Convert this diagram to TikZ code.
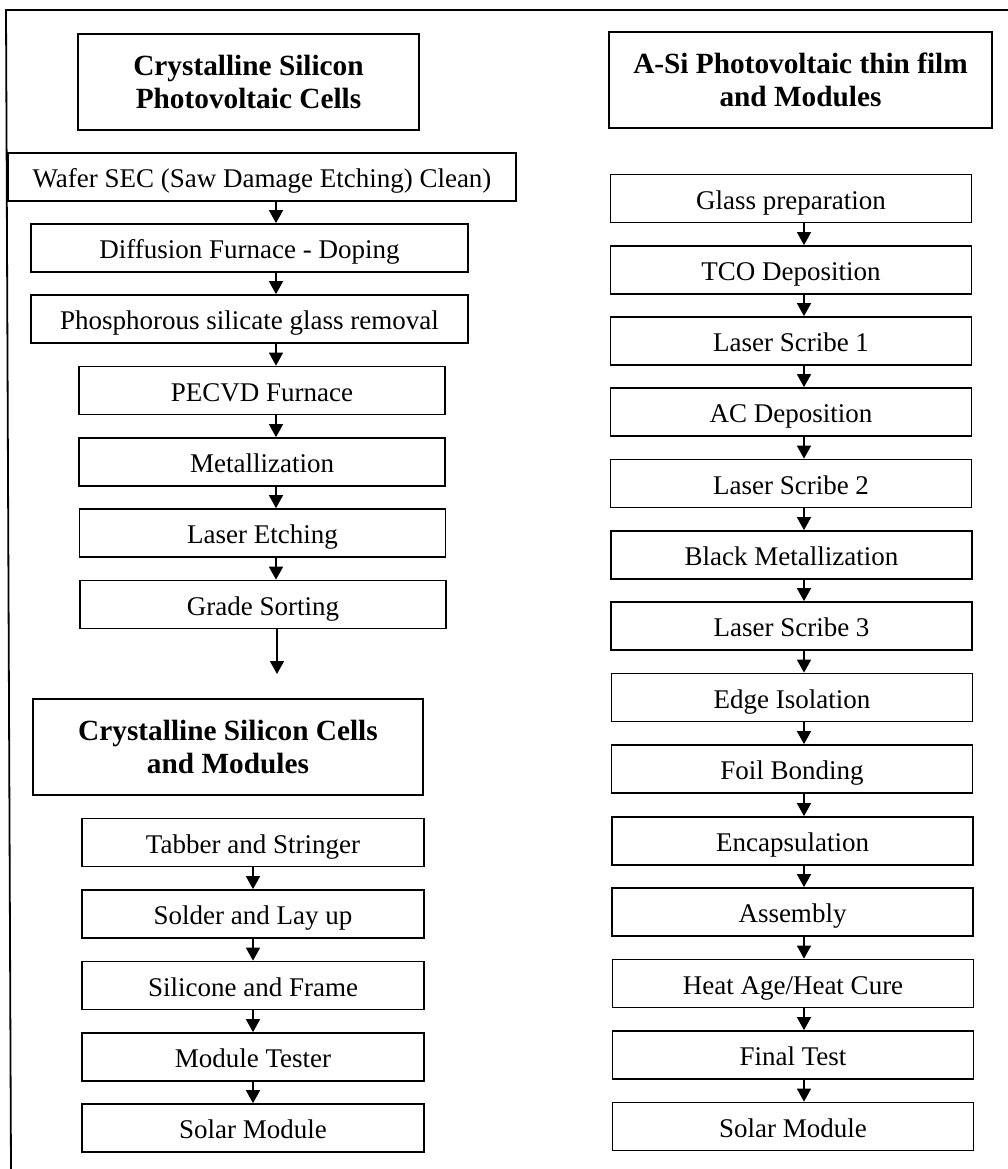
\documentclass[tikz,border=0pt]{standalone}
\usepackage{fontspec}
\setmainfont{Liberation Serif}
\usetikzlibrary{arrows.meta}
\begin{document}
\begin{tikzpicture}[x=1pt,y=-1pt,
  box/.style={draw, line width=1.7pt, minimum height=48pt, inner sep=0pt,
    font=\fontsize{27}{30}\selectfont, text height=21pt, text depth=0pt},
  ttl/.style={draw, line width=1.7pt, minimum height=96pt, inner sep=0pt,
    align=center, font=\bfseries\fontsize{29.3}{33}\selectfont},
  arr/.style={line width=1.5pt, -{Triangle[length=13pt,width=14pt]}}]
\useasboundingbox (0,0) rectangle (1008,1169);
% frame
\draw[line width=1.8pt] (11,1169) -- (6,10) -- (1008,10);
% ---------- left column ----------
\node[ttl, minimum width=341pt] (t1) at (248.5,82) {Crystalline Silicon\\Photovoltaic Cells};
\node[box, minimum width=508pt] (waf) at (262,177) {Wafer SEC (Saw Damage Etching) Clean)};
\node[box, minimum width=437pt] (dif) at (249.5,248) {Diffusion Furnace - Doping};
\node[box, minimum width=437pt] (pho) at (249.5,319) {Phosphorous silicate glass removal};
\node[box, minimum width=366pt] (pec) at (262,390.5) {PECVD Furnace};
\node[box, minimum width=366pt] (met) at (262,462) {Metallization};
\node[box, minimum width=366pt] (las) at (262.5,533) {Laser Etching};
\node[box, minimum width=366pt] (gra) at (263,604.5) {Grade Sorting};
\coordinate (ax) at (276,0);
\coordinate (gend) at (277,674);
\draw[arr] (waf.south -| ax) -- (dif.north -| ax);
\draw[arr] (dif.south -| ax) -- (pho.north -| ax);
\draw[arr] (pho.south -| ax) -- (pec.north -| ax);
\draw[arr] (pec.south -| ax) -- (met.north -| ax);
\draw[arr] (met.south -| ax) -- (las.north -| ax);
\draw[arr] (las.south -| ax) -- (gra.north -| ax);
\draw[arr] (gra.south -| gend) -- (gend);
\node[ttl, minimum width=390pt] (t2) at (228,747) {Crystalline Silicon Cells\\and Modules};
\node[box, minimum width=342pt] (tab) at (253,842.5) {Tabber and Stringer};
\node[box, minimum width=342pt] (sol) at (253,914) {Solder and Lay up};
\node[box, minimum width=342pt] (sil) at (253,985.5) {Silicone and Frame};
\node[box, minimum width=342pt] (mod) at (253,1057) {Module Tester};
\node[box, minimum width=342pt] (sm1) at (253,1128) {Solar Module};
\draw[arr] (tab) -- (sol);
\draw[arr] (sol) -- (sil);
\draw[arr] (sil) -- (mod);
\draw[arr] (mod) -- (sm1);
% ---------- right column ----------
\node[ttl, minimum width=383pt] (t3) at (800.5,80) {A-Si Photovoltaic thin film\\and Modules};
\coordinate (bx) at (804,0);
\node[box, minimum width=361pt] (r1) at (791,198.5) {Glass preparation};
\node[box, minimum width=361pt] (r2) at (791,270) {TCO Deposition};
\node[box, minimum width=361pt] (r3) at (791,341) {Laser Scribe 1};
\node[box, minimum width=361pt] (r4) at (791,412) {AC Deposition};
\node[box, minimum width=361pt] (r5) at (791,483.5) {Laser Scribe 2};
\node[box, minimum width=361pt] (r6) at (791.5,555) {Black Metallization};
\node[box, minimum width=361pt] (r7) at (791.5,626) {Laser Scribe 3};
\node[box, minimum width=361pt] (r8) at (792,697.5) {Edge Isolation};
\node[box, minimum width=361pt] (r9) at (792,769) {Foil Bonding};
\node[box, minimum width=361pt] (r10) at (792.5,841) {Encapsulation};
\node[box, minimum width=361pt] (r11) at (792.5,912) {Assembly};
\node[box, minimum width=361pt] (r12) at (793,983.5) {Heat Age/Heat Cure};
\node[box, minimum width=361pt] (r13) at (793,1055) {Final Test};
\node[box, minimum width=361pt] (r14) at (793,1126.5) {Solar Module};
\foreach \a/\b in {r1/r2,r2/r3,r3/r4,r4/r5,r5/r6,r6/r7,r7/r8,r8/r9,r9/r10,r10/r11,r11/r12,r12/r13,r13/r14}
  \draw[arr] (\a.south -| bx) -- (\b.north -| bx);
\end{tikzpicture}
\end{document}
